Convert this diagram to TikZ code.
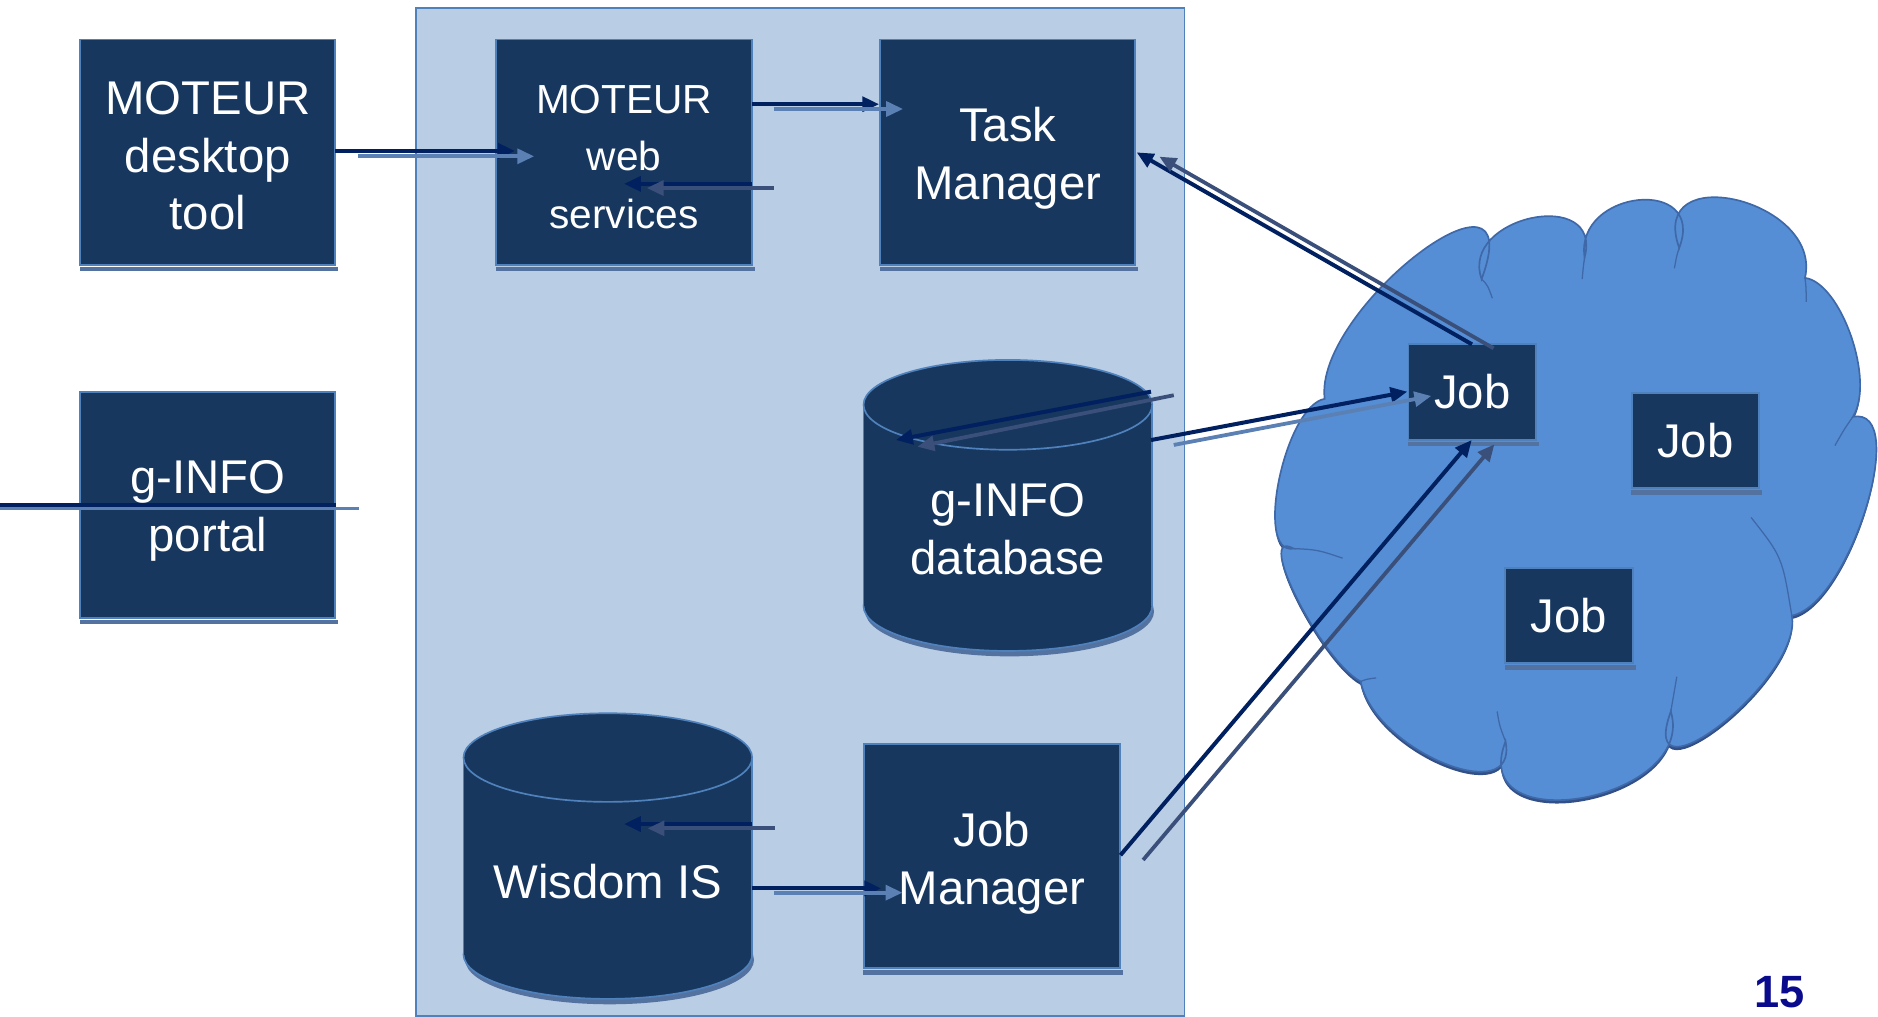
\documentclass[tikz,border=0pt]{standalone}
\usepackage{fontspec}
\setmainfont{Liberation Sans}
\usetikzlibrary{arrows.meta,calc}
\definecolor{panelfill}{RGB}{185,205,229}
\definecolor{panelline}{RGB}{79,129,189}
\definecolor{boxfill}{RGB}{23,55,94}
\definecolor{boxline}{RGB}{79,129,189}
\definecolor{shadowc}{RGB}{84,114,160}
\definecolor{cloudfill}{RGB}{85,142,213}
\definecolor{cloudline}{RGB}{62,104,168}
\definecolor{cloudshadow}{RGB}{50,80,135}
\definecolor{arrdark}{RGB}{0,32,96}
\definecolor{arrlight}{RGB}{91,128,180}
\definecolor{arrgrey}{RGB}{58,80,122}
\definecolor{numblue}{RGB}{10,10,140}
% round puff (s=0.2) and flat puff (s=0)
\newcommand\cpuff[3]{.. controls ($0.5333*(#1)-0.8667*(#2)+1.3334*(#3)$) and ($0.5333*(#2)-0.8667*(#1)+1.3334*(#3)$) .. (#2)}
\newcommand\cpuffs[3]{.. controls ($0.3333*(#1)-0.6667*(#2)+1.3334*(#3)$) and ($0.3333*(#2)-0.6667*(#1)+1.3334*(#3)$) .. (#2)}
\newcommand\cloudpath{(P1) \cpuff{P1}{P2}{M1} \cpuff{P2}{P3}{M2} \cpuff{P3}{P4}{M3} \cpuff{P4}{P5}{M4} .. controls (C5a) and (C5b) .. (P6) \cpuffs{P6}{P7}{M6} \cpuff{P7}{P8}{M7} \cpuff{P8}{P9}{M8} \cpuffs{P9}{P10}{M9} \cpuffs{P10}{P11}{M10} \cpuffs{P11}{P1}{M11} -- cycle}
\begin{document}
\begin{tikzpicture}[x=0.02cm,y=-0.02cm,
  txt/.style={text=white, align=center, font=\fontsize{22.5}{27.5}\selectfont},
  box/.style={draw=boxline, fill=boxfill, line width=0.9pt, inner sep=0pt,
    minimum width=4.26cm, minimum height=3.76cm},
  jobbox/.style={box, txt, minimum width=2.13cm, minimum height=1.59cm},
  darr/.style={draw=arrdark, line width=1.9pt, -{Triangle[length=8pt,width=7pt]}},
  larr/.style={draw=arrlight, line width=1.8pt, -{Triangle[length=8pt,width=7pt]}},
  garr/.style={draw=arrgrey, line width=1.8pt, -{Triangle[length=8pt,width=7pt]}},
  cyl/.style={fill=boxfill, draw=boxline, line width=0.8pt}]
\useasboundingbox (0,0) rectangle (1568,849);
\fill[white] (0,0) rectangle (1568,849);

% panel
\draw[draw=panelline, fill=panelfill, line width=0.9pt] (347,7) rectangle (989,848);

% boxes
\node[box] (desk) at (173.5,127) {};
\node[box, minimum height=3.78cm] (portal) at (173.5,421.5) {};
\node[box, minimum width=4.28cm] (web) at (521,127) {};
\node[box] (task) at (841.5,127) {};
\node[box, minimum width=4.29cm, minimum height=3.75cm] (jobmgr) at (828.25,714.75) {};
\node[txt] (desktxt) at ($(desk)+(0,3)$) {MOTEUR\\desktop\\tool};
\node[txt] (portaltxt) at ($(portal)+(0,5)$) {g-INFO\\portal};
\node[txt, font=\fontsize{19.3}{27.2}\selectfont] (webtxt) at ($(web)+(0,4)$) {MOTEUR\\web\\services};
\node[txt] (tasktxt) at ($(task)+(0,5)$) {Task\\Manager};
\node[txt] (jobmgrtxt) at ($(jobmgr)+(0,6)$) {Job\\Manager};

% g-INFO database cylinder
\fill[shadowc] (843,510.5) ellipse[x radius=120.5, y radius=37.5];
\path[cyl] (841.5,506) ellipse[x radius=120.5, y radius=37.5];
\fill[boxfill] (721,338) rectangle (962,506);
\draw[boxline, line width=0.8pt] (721,338) -- (721,506) (962,338) -- (962,506);
\path[cyl] (841.5,338) ellipse[x radius=120.5, y radius=37.5];
\node[txt] (db) at (841.5,442) {g-INFO\\database};

% Wisdom IS cylinder
\fill[shadowc] (509,801.5) ellipse[x radius=120.5, y radius=37];
\path[cyl] (507.5,797) ellipse[x radius=120.5, y radius=37];
\fill[boxfill] (387,632.5) rectangle (628,797);
\draw[boxline, line width=0.8pt] (387,632.5) -- (387,797) (628,632.5) -- (628,797);
\path[cyl] (507.5,632.5) ellipse[x radius=120.5, y radius=37];
\node[txt] (wis) at (507.5,736) {Wisdom IS};

% cloud
\coordinate (P1) at (1106,333);  \coordinate (M1) at (1184,212);
\coordinate (P2) at (1237,233);  \coordinate (M2) at (1279,182);
\coordinate (P3) at (1323,215);  \coordinate (M3) at (1368,167);
\coordinate (P4) at (1402,207);  \coordinate (M4) at (1450,167);
\coordinate (P5) at (1507,232);
\coordinate (C5a) at (1537,236); \coordinate (C5b) at (1566,318);
\coordinate (P6) at (1547,348);  \coordinate (M6) at (1558,424);
\coordinate (P7) at (1496,514);  \coordinate (M7) at (1438,604);
\coordinate (P8) at (1395,594);  \coordinate (M8) at (1322,666);
\coordinate (P9) at (1257,619);  \coordinate (M9) at (1205,637);
\coordinate (P10) at (1136,569); \coordinate (M10) at (1083,500);
\coordinate (P11) at (1080,458); \coordinate (M11) at (1068,400);
\fill[cloudshadow, transform canvas={yshift=-1.6pt}] \cloudpath;
\path[fill=cloudfill, draw=cloudline, line width=0.8pt] \cloudpath;
% inner creases of the cloud
\begin{scope}[draw=cloudline, line width=0.6pt]
\draw (P2) .. controls (1242,238) .. (1246,249);
\draw (P3) .. controls (1322,222) .. (1321,233);
\draw (P4) .. controls (1400,213) .. (1398,224);
\draw (P5) .. controls (1508,240) .. (1508,252);
\draw (P6) .. controls (1540,358) .. (1532,372);
\draw (P7) .. controls (1488,465) .. (1462,432);
\draw (P8) .. controls (1398,580) .. (1400,565);
\draw (P9) .. controls (1252,606) .. (1250,594);
\draw (P10) .. controls (1141,567) .. (1149,566);
\draw (P11) .. controls (1100,459) .. (1121,466);
\end{scope}

% jobs
\node[jobbox] (job1) at (1229.25,327.25) {Job};
\node[jobbox] (job2) at (1415.6,367.9) {Job};
\node[jobbox] (job3) at (1310,514.1) {Job};

% shadows under boxes
\foreach \n in {desk,portal,web,task,jobmgr,job1,job2,job3}
  \fill[shadowc] ($(\n.south west)+(0.5,1)$) rectangle ($(\n.south east)+(1.5,4.5)$);

% connector end points
\coordinate (a1ds) at (280,126);     \coordinate (a1de) at (430,126);
\coordinate (a1ls) at (299,130.5);   \coordinate (a1le) at (446,130.5);
\coordinate (a2ds) at (628,87);      \coordinate (a2de) at (734,87);
\coordinate (a2ls) at (646,91);      \coordinate (a2le) at (754,91);
\coordinate (a3ds) at (628,153.5);   \coordinate (a3de) at (521,153.5);
\coordinate (a3ls) at (646,157);     \coordinate (a3le) at (540,157);
\coordinate (a4ds) at (961,327);     \coordinate (a4de) at (748,367.4);
\coordinate (a4ls) at (980,330);     \coordinate (a4le) at (766,373);
\coordinate (a5ds) at (961,367.4);   \coordinate (a5de) at (1175,327);
\coordinate (a5ls) at (980,371.5);   \coordinate (a5le) at (1195,330.6);
\coordinate (a6ds) at (1229,287.5);  \coordinate (a6de) at (949,127.2);
\coordinate (a6ls) at (1247,290.8);  \coordinate (a6le) at (968,130.8);
\coordinate (a7ds) at (935.5,714);   \coordinate (a7de) at (1228.8,367.4);
\coordinate (a7ls) at (954.4,718);   \coordinate (a7le) at (1247.7,371);
\coordinate (a8ds) at (628,688);     \coordinate (a8de) at (521,688);
\coordinate (a8ls) at (647,691.6);   \coordinate (a8le) at (540.7,691.6);
\coordinate (a9ds) at (627.5,741.7); \coordinate (a9de) at (735.7,741.7);
\coordinate (a9ls) at (646.3,745.3); \coordinate (a9le) at (753.5,745.3);

% connectors
\draw[darr] (a1ds) -- (a1de);  \draw[larr] (a1ls) -- (a1le);
\draw[darr] (a2ds) -- (a2de);  \draw[larr] (a2ls) -- (a2le);
\draw[darr] (a3ds) -- (a3de);  \draw[garr] (a3ls) -- (a3le);
\draw[darr] (a4ds) -- (a4de);  \draw[garr] (a4ls) -- (a4le);
\draw[darr] (a5ds) -- (a5de);  \draw[larr] (a5ls) -- (a5le);
\draw[darr] (a6ds) -- (a6de);  \draw[garr] (a6ls) -- (a6le);
\draw[darr] (a7ds) -- (a7de);  \draw[garr] (a7ls) -- (a7le);
\draw[darr] (a8ds) -- (a8de);  \draw[garr] (a8ls) -- (a8le);
\draw[darr] (a9ds) -- (a9de);  \draw[larr] (a9ls) -- (a9le);

% line through the portal
\coordinate (pl1) at (0,424.5);  \coordinate (pl2) at (300,424.5);
\coordinate (pd1) at (0,421.5);
\draw[arrlight, line width=1.8pt] (pl1) -- (pl2);
\draw[arrdark, line width=1.9pt] (pd1) -- (pd1 -| portal.east);

% page number
\node[text=numblue, font=\fontsize{21.5}{26}\selectfont\bfseries] (pagenum) at (1485.5,828) {15};
\end{tikzpicture}
\end{document}
